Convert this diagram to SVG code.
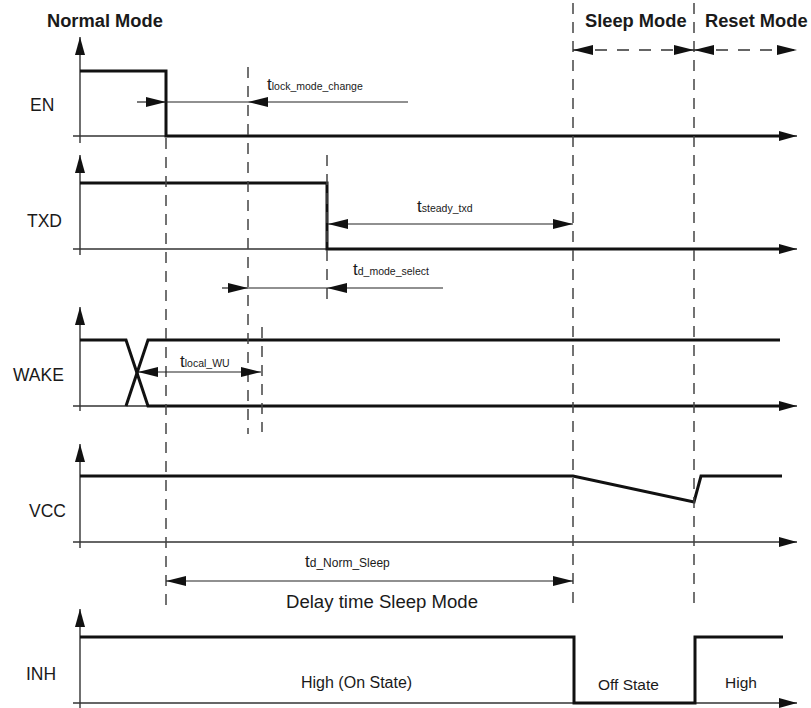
<svg xmlns="http://www.w3.org/2000/svg" width="811" height="708" viewBox="0 0 811 708">
<style>
text{font-family:"Liberation Sans",Arial,sans-serif;fill:#1a1a1a}
.bold{font-weight:bold;font-size:18.3px}
.sig{font-size:17.5px}
.t{font-size:17px}
.sub{font-size:10.5px}
.axis{stroke:#333;stroke-width:1.4;fill:none}
.wave{stroke:#111;stroke-width:3;fill:none;stroke-linejoin:miter}
.dash{stroke:#444;stroke-width:1.5;stroke-dasharray:11 8;fill:none}
.tim{stroke:#222;stroke-width:1.2;fill:none}
.mode{stroke:#333;stroke-width:1.5;stroke-dasharray:12 10;fill:none}
</style>
<defs>
<marker id="ah" viewBox="0 0 20 10" refX="20" refY="5" markerWidth="20" markerHeight="10" markerUnits="userSpaceOnUse" orient="auto-start-reverse"><path d="M0,0 L20,5 L0,10 z" fill="#111"/></marker>
<marker id="ax" viewBox="0 0 18 10" refX="18" refY="5" markerWidth="18" markerHeight="10" markerUnits="userSpaceOnUse" orient="auto"><path d="M0,0 L18,5 L0,10 z" fill="#111"/></marker>
</defs>

<g id="mode-labels">
<text class="bold" x="47" y="27">Normal Mode</text>
<text class="bold" x="585" y="27">Sleep Mode</text>
<text class="bold" x="705" y="27">Reset Mode</text>
</g>

<g id="sig-EN">
<text class="sig" x="30" y="111">EN</text>
<line class="axis" x1="80" y1="143" x2="80" y2="37" marker-end="url(#ax)"/>
<line class="axis" x1="73" y1="136" x2="797" y2="136" marker-end="url(#ax)"/>
<polyline class="wave" points="80,71 166,71 166,136 780,136"/>
</g>

<g id="sig-TXD">
<text class="sig" x="27" y="227">TXD</text>
<line class="axis" x1="80" y1="255" x2="80" y2="155" marker-end="url(#ax)"/>
<line class="axis" x1="73" y1="249" x2="797" y2="249" marker-end="url(#ax)"/>
<polyline class="wave" points="80,183 327,183 327,249 780,249"/>
</g>

<g id="sig-WAKE">
<text class="sig" x="13" y="381">WAKE</text>
<line class="axis" x1="80" y1="411" x2="80" y2="307" marker-end="url(#ax)"/>
<line class="axis" x1="73" y1="406" x2="797" y2="406" marker-end="url(#ax)"/>
<polyline class="wave" points="80,340 126,340 148,406 780,406"/>
<polyline class="wave" points="126,406 148,340 780,340"/>
</g>

<g id="sig-VCC">
<text class="sig" x="29" y="517">VCC</text>
<line class="axis" x1="80" y1="548" x2="80" y2="444" marker-end="url(#ax)"/>
<line class="axis" x1="73" y1="542" x2="797" y2="542" marker-end="url(#ax)"/>
<polyline class="wave" points="80,476 573,476 694,502 701,476 782,476"/>
</g>

<g id="sig-INH">
<text class="sig" x="26" y="680">INH</text>
<line class="axis" x1="80" y1="708" x2="80" y2="609" marker-end="url(#ax)"/>
<line class="axis" x1="73" y1="703" x2="797" y2="703" marker-end="url(#ax)"/>
<polyline class="wave" points="80,637 574,637 574,703 695,703 695,637 783,637"/>
<text x="301" y="688" style="font-size:16px">High (On State)</text>
<text x="598" y="690" style="font-size:15.5px">Off State</text>
<text x="725" y="688" style="font-size:15.5px">High</text>
</g>

<g id="connectors">
<line class="dash" x1="166" y1="138" x2="166" y2="610"/>
<line class="dash" x1="248" y1="67" x2="248" y2="434"/>
<line class="dash" x1="262" y1="327" x2="262" y2="432"/>
<line class="dash" x1="327" y1="155" x2="327" y2="300"/>
<line class="dash" x1="573" y1="3" x2="573" y2="610"/>
<line class="dash" x1="694" y1="3" x2="694" y2="610"/>

<line class="mode" x1="573" y1="50" x2="694" y2="50" marker-start="url(#ah)" marker-end="url(#ah)"/>
<line class="mode" x1="694" y1="50" x2="797" y2="50" marker-start="url(#ah)" marker-end="url(#ah)"/>

<line class="tim" x1="137" y1="102" x2="166" y2="102" marker-end="url(#ah)"/>
<line class="tim" x1="408" y1="102" x2="248" y2="102" marker-end="url(#ah)"/>
<line class="tim" x1="166" y1="102" x2="248" y2="102"/>
<text class="t" x="267" y="90">t<tspan class="sub">lock_mode_change</tspan></text>

<line class="tim" x1="328" y1="224" x2="573" y2="224" marker-start="url(#ah)" marker-end="url(#ah)"/>
<text class="t" x="417" y="212">t<tspan class="sub">steady_txd</tspan></text>

<line class="tim" x1="222" y1="288" x2="248" y2="288" marker-end="url(#ah)"/>
<line class="tim" x1="248" y1="288" x2="327" y2="288"/>
<line class="tim" x1="443" y1="288" x2="327" y2="288" marker-end="url(#ah)"/>
<text class="t" x="353" y="275">t<tspan class="sub">d_mode_select</tspan></text>

<line class="tim" x1="138" y1="372" x2="261" y2="372" marker-start="url(#ah)" marker-end="url(#ah)"/>
<text class="t" x="180" y="367">t<tspan class="sub">local_WU</tspan></text>

<line class="tim" x1="166" y1="581" x2="573" y2="581" marker-start="url(#ah)" marker-end="url(#ah)"/>
<text class="t" x="305" y="567">t<tspan style="font-size:12px">d_Norm_Sleep</tspan></text>
<text x="286" y="608" style="font-size:17.5px" textLength="192" lengthAdjust="spacingAndGlyphs">Delay time Sleep Mode</text>
</g>
</svg>
